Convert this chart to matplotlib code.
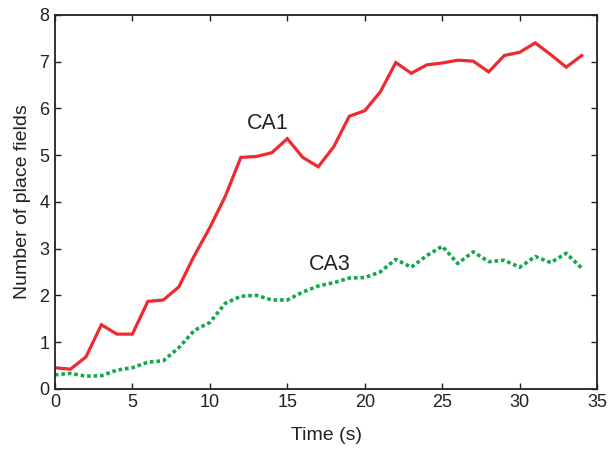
import matplotlib
matplotlib.use("Agg")
import matplotlib.pyplot as plt

plt.rcParams['font.family'] = ['Liberation Sans', 'DejaVu Sans']

# time points (s)
time = list(range(35))

# number of place fields
ca1 = [0.45, 0.42, 0.68, 1.37, 1.17, 1.17, 1.87, 1.9, 2.18, 2.85,
       3.45, 4.12, 4.95, 4.97, 5.05, 5.35, 4.95, 4.75, 5.18, 5.83,
       5.95, 6.35, 6.98, 6.75, 6.93, 6.97, 7.03, 7.01, 6.78, 7.13,
       7.2, 7.4, 7.15, 6.88, 7.13]
ca3 = [0.3, 0.33, 0.27, 0.28, 0.4, 0.45, 0.57, 0.6, 0.88, 1.25,
       1.42, 1.83, 1.98, 2.0, 1.9, 1.9, 2.07, 2.2, 2.27, 2.37,
       2.38, 2.5, 2.77, 2.6, 2.85, 3.05, 2.68, 2.93, 2.72, 2.75,
       2.6, 2.83, 2.7, 2.9, 2.58]

fig = plt.figure(figsize=(6.1, 4.5), dpi=100)
ax = fig.add_axes([0.090, 0.136, 0.889, 0.831])

ax.plot(time, ca1, color='#ee2a2e', lw=2.3, solid_joinstyle='miter')
ax.plot(time, ca3, color='#13a84a', lw=2.6, linestyle=(0, (1, 0.8)))

# series labels
ax.text(12.4, 5.55, 'CA1', fontsize=15.5, color='#222222')
ax.text(16.4, 2.55, 'CA3', fontsize=15.5, color='#222222')

ax.set_xlim(0, 35)
ax.set_ylim(0, 8)
ax.set_xticks(range(0, 36, 5))
ax.set_yticks(range(0, 9))
ax.tick_params(direction='in', top=True, right=True, length=4, width=1,
               labelsize=13, colors='#222222')
ax.tick_params(axis='x', pad=4)
ax.tick_params(axis='y', pad=4)
for s in ax.spines.values():
    s.set_linewidth(1.3)
    s.set_color('#222222')

ax.set_xlabel('Time (s)', fontsize=14, color='#222222', labelpad=11)
ax.set_ylabel('Number of place fields', fontsize=14, color='#222222', labelpad=6)

fig.savefig('out.png', dpi=100)
